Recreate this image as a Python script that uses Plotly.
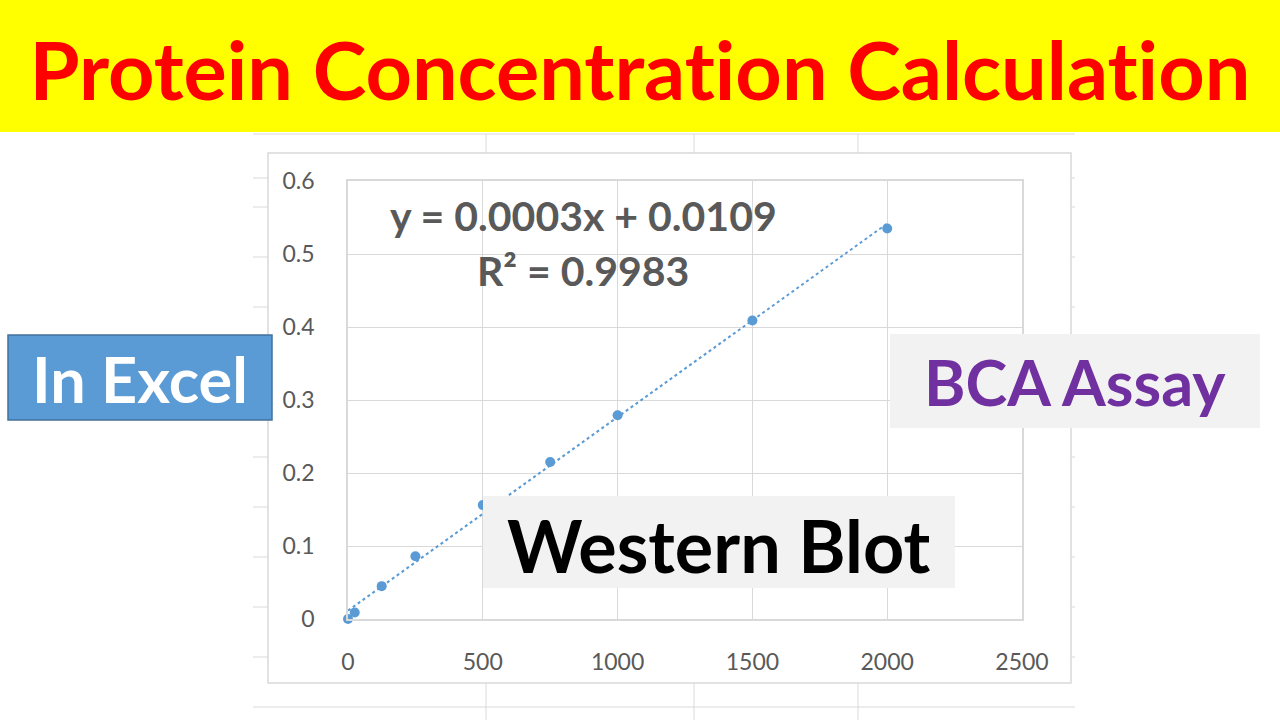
import numpy as np
import plotly.graph_objects as go

# ---- data ----
conc_ug_ml = [0, 25, 125, 250, 500, 750, 1000, 1500, 2000]
absorbance = [0.0, 0.009, 0.045, 0.086, 0.156, 0.215, 0.279, 0.409, 0.535]
x_ticks = [0, 500, 1000, 1500, 2000, 2500]
y_ticks = [0, 0.1, 0.2, 0.3, 0.4, 0.5, 0.6]
title_text = "Protein Concentration Calculation"
equation_text = "y = 0.0003x + 0.0109"
r2_text = "R² = 0.9983"
W, H = 1280, 720

def px(x):
    return x / W

def py(y):
    return 1 - y / H

slope, intercept = np.polyfit(conc_ug_ml, absorbance, 1)
fit_x = [min(conc_ug_ml), max(conc_ug_ml)]
fit_y = [slope * v + intercept for v in fit_x]

blue = "#5B9BD5"
fig = go.Figure()
fig.add_trace(go.Scatter(x=fit_x, y=fit_y, mode="lines",
                         line=dict(color=blue, width=2, dash="dot"),
                         hoverinfo="skip", showlegend=False))
fig.add_trace(go.Scatter(x=conc_ug_ml, y=absorbance, mode="markers", cliponaxis=False,
                         marker=dict(color=blue, size=10), showlegend=False))

shapes = []
# yellow banner
shapes.append(dict(type="rect", xref="paper", yref="paper", x0=0, x1=1,
                   y0=py(132), y1=1, fillcolor="#FFFF00", line=dict(width=0), layer="below"))
grey = "#D9D9D9"
# spreadsheet lines (background)
shapes.append(dict(type="line", xref="paper", yref="paper", x0=px(253), x1=px(1075),
                   y0=py(134), y1=py(134), line=dict(color=grey, width=1), layer="below"))
shapes.append(dict(type="line", xref="paper", yref="paper", x0=px(253), x1=px(1075),
                   y0=py(707), y1=py(707), line=dict(color=grey, width=1), layer="below"))
for vx in [486, 694, 858]:
    shapes.append(dict(type="line", xref="paper", yref="paper", x0=px(vx), x1=px(vx),
                       y0=py(683), y1=py(720), line=dict(color=grey, width=1), layer="below"))
    shapes.append(dict(type="line", xref="paper", yref="paper", x0=px(vx), x1=px(vx),
                       y0=py(134), y1=py(153), line=dict(color=grey, width=1), layer="below"))
for ry in [178] + [207 + 50 * k for k in range(10)]:
    shapes.append(dict(type="line", xref="paper", yref="paper", x0=px(253), x1=px(268),
                       y0=py(ry), y1=py(ry), line=dict(color=grey, width=1), layer="below"))
    shapes.append(dict(type="line", xref="paper", yref="paper", x0=px(1071), x1=px(1075),
                       y0=py(ry), y1=py(ry), line=dict(color=grey, width=1), layer="below"))
# chart area frame
shapes.append(dict(type="rect", xref="paper", yref="paper", x0=px(268), x1=px(1071),
                   y0=py(683), y1=py(153), line=dict(color=grey, width=1.5),
                   fillcolor="rgba(0,0,0,0)", layer="below"))
# label boxes
shapes.append(dict(type="rect", xref="paper", yref="paper", x0=px(8), x1=px(272),
                   y0=py(420), y1=py(335), fillcolor=blue, line=dict(color="#41719C", width=1.5)))
shapes.append(dict(type="rect", xref="paper", yref="paper", x0=px(890), x1=px(1260),
                   y0=py(428), y1=py(334), fillcolor="#F2F2F2", line=dict(width=0)))
shapes.append(dict(type="rect", xref="paper", yref="paper", x0=px(483), x1=px(955),
                   y0=py(588), y1=py(496), fillcolor="#F2F2F2", line=dict(width=0)))

ann = []
ann.append(dict(text=f"<b>{title_text}</b>", xref="paper", yref="paper", x=px(640), y=py(68),
                xanchor="center", yanchor="middle", showarrow=False,
                font=dict(family="Lato", size=81, color="#FF0000")))
ann.append(dict(text=f"<b>{equation_text}</b>", xref="paper", yref="paper", x=px(583), y=py(215),
                xanchor="center", yanchor="middle", showarrow=False,
                font=dict(family="Lato", size=41, color="#595959")))
ann.append(dict(text=f"<b>{r2_text}</b>", xref="paper", yref="paper", x=px(583), y=py(270),
                xanchor="center", yanchor="middle", showarrow=False,
                font=dict(family="Lato", size=41, color="#595959")))
ann.append(dict(text="<b>In Excel</b>", xref="paper", yref="paper", x=px(140), y=py(378),
                xanchor="center", yanchor="middle", showarrow=False,
                font=dict(family="Lato", size=63, color="#FFFFFF")))
ann.append(dict(text="<b>BCA Assay</b>", xref="paper", yref="paper", x=px(1075), y=py(381),
                xanchor="center", yanchor="middle", showarrow=False,
                font=dict(family="Lato", size=63, color="#7030A0")))
ann.append(dict(text="<b>Western Blot</b>", xref="paper", yref="paper", x=px(719), y=py(545),
                xanchor="center", yanchor="middle", showarrow=False,
                font=dict(family="Lato", size=72, color="#000000")))

axis_font = dict(family="Lato", size=23, color="#595959")
fig.update_layout(
    width=W, height=H,
    margin=dict(l=0, r=0, t=0, b=0, pad=0),
    paper_bgcolor="white", plot_bgcolor="white",
    shapes=shapes, annotations=ann,
    xaxis=dict(domain=[px(348), px(1022)], range=[0, 2500], tickvals=x_ticks,
               ticktext=[str(v) for v in x_ticks], showgrid=True, gridcolor=grey, gridwidth=1,
               showline=True, linecolor=grey, linewidth=1.5, mirror=True, zeroline=False,
               automargin=False,
               ticks="", tickfont=axis_font, ticklabelstandoff=22),
    yaxis=dict(domain=[py(619), py(181)], range=[0, 0.6], tickvals=y_ticks,
               ticktext=[("0" if v == 0 else f"{v:.1f}") for v in y_ticks],
               showgrid=True, gridcolor=grey, gridwidth=1,
               showline=True, linecolor=grey, linewidth=1.5, mirror=True, zeroline=False,
               automargin=False,
               ticks="", tickfont=axis_font, ticklabelstandoff=27),
)

post_js = (
    "document.body.style.margin='0';"
    "document.body.style.padding='0';"
    "document.body.style.overflow='hidden';"
    "var s=document.createElement('style');"
    "s.textContent='text{font-variant-ligatures:none !important;}';"
    "document.head.appendChild(s);"
)
fig.write_html("out.html", post_script=post_js)
